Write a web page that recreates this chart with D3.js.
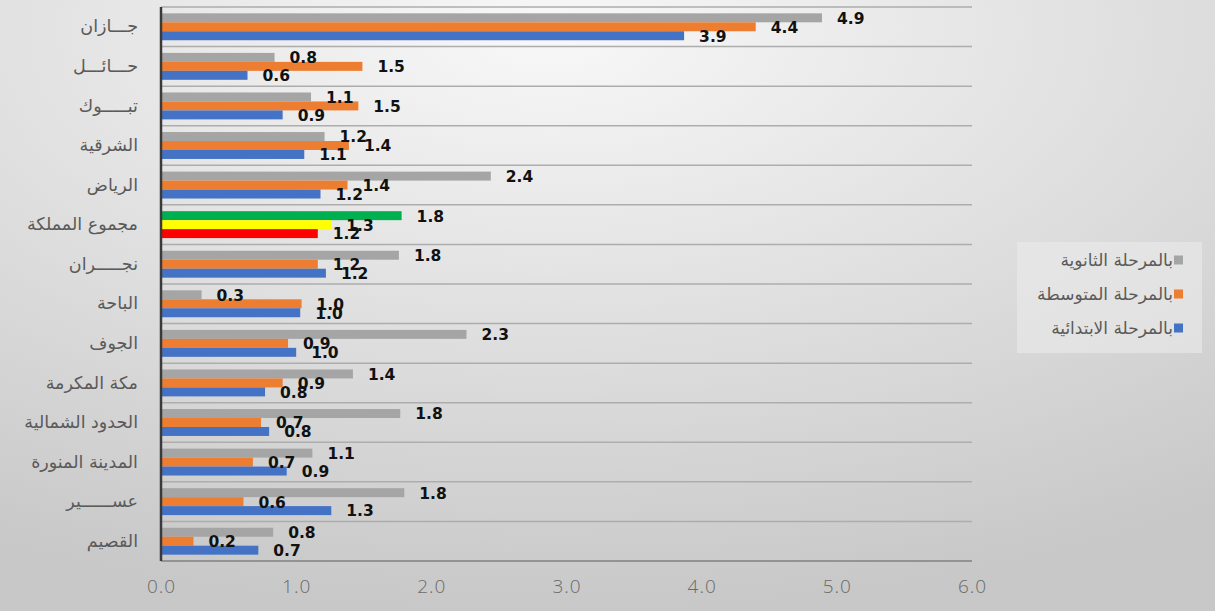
<!DOCTYPE html>
<html>
<head>
<meta charset="utf-8">
<script src="https://cdn.jsdelivr.net/npm/d3@7"></script>
<style>
  html, body { margin: 0; padding: 0; }
  body { width: 1215px; height: 611px; overflow: hidden; }
  .cat text { font-family: "DejaVu Sans", sans-serif; font-size: 17.5px; fill: #5a5a5a; }
  .xaxis text { font-family: "Open Sans", sans-serif; font-weight: 300; font-size: 19px; fill: #6a6a6a; letter-spacing: 1px; }
  .lbl { font-family: "DejaVu Sans", sans-serif; font-weight: bold; font-size: 15.5px; fill: #111; }
  .leg { font-family: "DejaVu Sans", sans-serif; font-size: 17px; fill: #5a5a5a; }
</style>
</head>
<body>
<div id="chart"></div>
<script>
// categories (top to bottom) and the three school stages
var categories = ["جـــازان", "حـــائـــل", "تبـــــوك", "الشرقية", "الرياض", "مجموع المملكة", "نجـــــران",
  "الباحة", "الجوف", "مكة المكرمة", "الحدود الشمالية", "المدينة المنورة", "عســــــير", "القصيم"];
var secondary    = [4.89, 0.84, 1.11, 1.21, 2.44, 1.78, 1.76, 0.30, 2.26, 1.42, 1.77, 1.12, 1.80, 0.83];
var intermediate = [4.40, 1.49, 1.46, 1.39, 1.38, 1.26, 1.16, 1.04, 0.94, 0.90, 0.74, 0.68, 0.61, 0.24];
var primary      = [3.87, 0.64, 0.90, 1.06, 1.18, 1.16, 1.22, 1.03, 1.00, 0.77, 0.80, 0.93, 1.26, 0.72];
var seriesNames = ["بالمرحلة الثانوية", "بالمرحلة المتوسطة", "بالمرحلة الابتدائية"];
var seriesColors = ["#a5a5a5", "#ed7d31", "#4472c4"];
var totalColors = ["#00b050", "#ffff00", "#ff0000"];   // colours used for the Kingdom total row
var xTicks = [0, 1, 2, 3, 4, 5, 6];

var width = 1215, height = 611;
var plot = {left: 161, right: 972, top: 7, bottom: 561};

var svg = d3.select("#chart").append("svg")
  .attr("width", width)
  .attr("height", height);

// background gradient
var defs = svg.append("defs");
var grad = defs.append("radialGradient")
  .attr("id", "bg")
  .attr("cx", "45%").attr("cy", "5%").attr("r", "95%");
grad.append("stop").attr("offset", "0%").attr("stop-color", "#f8f8f8");
grad.append("stop").attr("offset", "100%").attr("stop-color", "#c8c8c8");
svg.append("rect").attr("width", width).attr("height", height).attr("fill", "url(#bg)");

var x = d3.scaleLinear().domain([0, 6]).range([plot.left, plot.right]);
var y = d3.scaleBand().domain(categories).range([plot.top, plot.bottom]);
var bw = y.bandwidth();
var y1 = d3.scaleBand().domain([0, 1, 2]).range([bw * 0.16, bw * 0.84]);

var rows = categories.map(function(c, i) {
  return {cat: c, vals: [secondary[i], intermediate[i], primary[i]], total: c === "مجموع المملكة"};
});

// horizontal separators
svg.append("g").selectAll("line")
  .data(categories)
  .enter().append("line")
  .attr("x1", plot.left).attr("x2", plot.right)
  .attr("y1", function(d) { return y(d); })
  .attr("y2", function(d) { return y(d); })
  .attr("stroke", "#adadad")
  .attr("stroke-width", 1.5);

// bars
var groups = svg.append("g").selectAll("g")
  .data(rows)
  .enter().append("g")
  .attr("transform", function(d) { return "translate(0," + y(d.cat) + ")"; });

groups.selectAll("rect")
  .data(function(d) { return d.vals.map(function(v, k) { return {v: v, k: k, total: d.total}; }); })
  .enter().append("rect")
  .attr("x", x(0))
  .attr("y", function(d) { return y1(d.k); })
  .attr("width", function(d) { return x(d.v) - x(0); })
  .attr("height", y1.bandwidth())
  .attr("fill", function(d) { return d.total ? totalColors[d.k] : seriesColors[d.k]; });

groups.selectAll("text")
  .data(function(d) { return d.vals.map(function(v, k) { return {v: v, k: k}; }); })
  .enter().append("text")
  .attr("class", "lbl")
  .attr("x", function(d) { return x(d.v) + 15; })
  .attr("y", function(d) { return y1(d.k) + y1.bandwidth() / 2; })
  .attr("dy", "0.38em")
  .text(function(d) { return d.v.toFixed(1); });

// bottom axis line
svg.append("line")
  .attr("x1", plot.left).attr("x2", plot.right)
  .attr("y1", plot.bottom).attr("y2", plot.bottom)
  .attr("stroke", "#808080").attr("stroke-width", 1.5);

// left axis line
svg.append("line")
  .attr("x1", plot.left).attr("x2", plot.left)
  .attr("y1", plot.top).attr("y2", plot.bottom)
  .attr("stroke", "#3a3a3a").attr("stroke-width", 2.5);

// category labels
var catAxis = svg.append("g")
  .attr("class", "cat")
  .attr("transform", "translate(" + plot.left + ",0)")
  .call(d3.axisLeft(y).tickSize(0).tickPadding(23));
catAxis.select(".domain").remove();

// x tick labels
var xAxis = svg.append("g")
  .attr("class", "xaxis")
  .attr("transform", "translate(0," + plot.bottom + ")")
  .call(d3.axisBottom(x).tickValues(xTicks).tickFormat(d3.format(".1f")).tickSize(0).tickPadding(19));
xAxis.select(".domain").remove();

// legend
var legend = svg.append("g").attr("transform", "translate(1017,242)");
legend.append("rect")
  .attr("width", 185).attr("height", 111)
  .attr("fill", "#ebebeb").attr("opacity", 0.6);
var items = legend.selectAll(".item")
  .data(seriesNames)
  .enter().append("g")
  .attr("transform", function(d, i) { return "translate(0," + (18 + i * 34) + ")"; });
items.append("rect")
  .attr("x", 157).attr("y", -4.5)
  .attr("width", 9).attr("height", 9)
  .attr("fill", function(d, i) { return seriesColors[i]; });
items.append("text")
  .attr("class", "leg")
  .attr("x", 156)
  .attr("dy", "0.35em")
  .attr("text-anchor", "end")
  .text(function(d) { return d; });
</script>
</body>
</html>
